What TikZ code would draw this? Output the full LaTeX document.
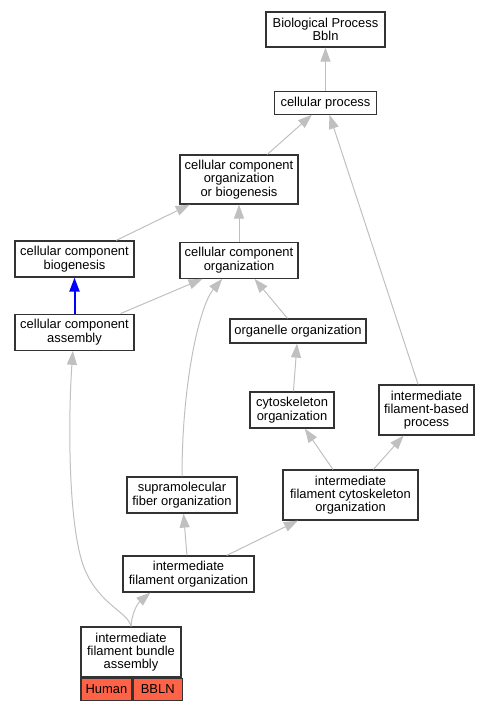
\documentclass[tikz,border=0pt]{standalone}
\usepackage{fontspec}
\setmainfont{Liberation Sans}
\usetikzlibrary{positioning,arrows.meta}
\definecolor{edgegray}{RGB}{192,192,192}
\definecolor{boxline}{RGB}{51,51,51}
\definecolor{hit}{RGB}{255,99,71}

\begin{document}
\begin{tikzpicture}[x=0.75pt, y=-0.75pt,
  main/.style = {draw=boxline, line width=0.9pt, align=center, inner sep=0pt, font=\fontsize{9.7}{10}\selectfont},
  wh/.style 2 args = {minimum width=#1pt, minimum height=#2pt},
  cell/.style = {main, fill=hit},
  link/.style = {draw=edgegray, line width=0.75pt, -{Triangle[length=10.5pt, width=7.5pt]}},
  isa/.style = {draw=blue, line width=1.5pt, -{Triangle[length=10.5pt, width=7.5pt]}}]
\useasboundingbox (0,0) rectangle (489,709);

\node[main, wh={89.25}{26.25}] (1) at (325.5,29.5) {Biological Process\\Bbln};
\node[main, wh={76.5}{17.25}] (2) [below=32.25pt of 1] {cellular process};
\node[main, wh={88.5}{36.75}] (3) at (239,179.5) {cellular component\\organization\\or biogenesis};
\node[main, wh={89.25}{27}] (4) at (74.5,259) {cellular component\\biogenesis};
\node[main, wh={88.5}{27}] (5) [below=27.75pt of 3] {cellular component\\organization};
\node[main, wh={89.25}{27}] (6) [below=27pt of 4] {cellular component\\assembly};
\node[main, wh={102}{18}] (7) at (298,331) {organelle organization};
\node[main, wh={63}{27}] (8) at (292,410) {cytoskeleton\\organization};
\node[main, wh={71.25}{37.5}] (9) at (426.5,410) {intermediate\\filament-based\\process};
\node[main, wh={82.5}{27}] (10) at (182,495) {supramolecular\\fiber organization};
\node[main, wh={101.25}{37.5}] (11) at (350.5,495) {intermediate\\filament cytoskeleton\\organization};
\node[main, wh={98.25}{27}] (12) at (188.5,574) {intermediate\\filament organization};
\node[main, wh={75}{37.5}] (13) at (131,652) {intermediate\\filament bundle\\assembly};
\node[cell, wh={38.25}{16.5}, anchor=north west] (14) at (13.south west) {Human};
\node[cell, wh={36.75}{16.5}, anchor=north west] (15) at (14.north east) {BBLN};

\draw[link] (2) -- (1);
\draw[link] (3) -- (2);
\draw[link] (9) -- (2);
\draw[link] (4.24) -- (3.207);
\draw[link] (5) -- (3);
\draw[isa] (6) -- (4);
\draw[link] (6.22) -- (5.207);
\draw[link] (7) -- (5);
\draw[link] (10.north) .. controls (182,380) and (200,305) .. (5.228);
\draw[link] (8) -- (7);
\draw[link] (11) -- (8);
\draw[link] (11) -- (9);
\draw[link] (12) -- (10);
\draw[link] (12) -- (11);
\draw[link] (13.north) .. controls (132,612) and (138,603) .. (12.206);
\draw[link] (13.north) .. controls (128,612) and (100,605) .. (85,570)
  .. controls (68,530) and (68,420) .. (6.265);
\end{tikzpicture}
\end{document}
